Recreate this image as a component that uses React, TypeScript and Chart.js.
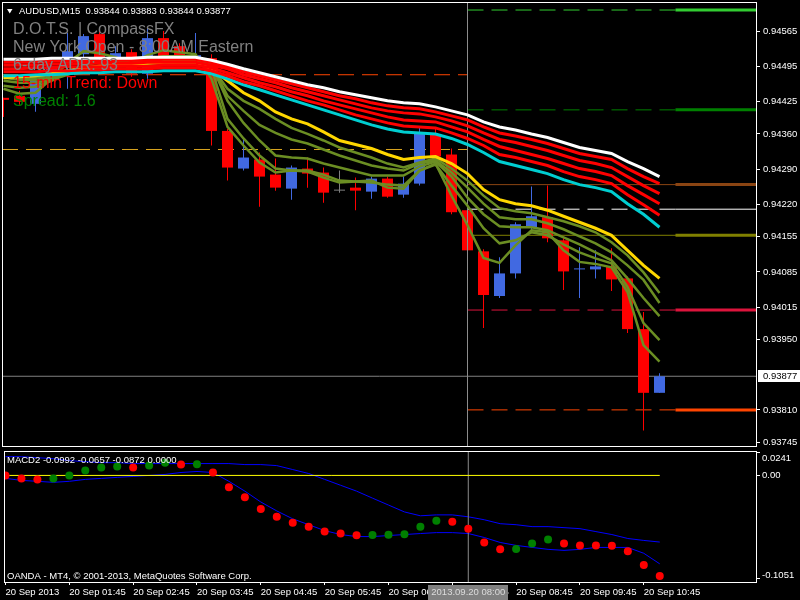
import React, { useEffect, useRef } from "react";
import { Chart, registerables } from "chart.js";

Chart.register(...registerables);

const FONT = "'Liberation Sans', Arial, sans-serif";

// ---------------- data (AUDUSD M15, 20 Sep 2013) ----------------
const barOpen = [
  0.94432, 0.94436, 0.94420, 0.94470, 0.94499, 0.94519, 0.94559, 0.94511, 0.94523, 0.94480,
  0.94551, 0.94535, 0.94505, 0.94511, 0.94366, 0.94291, 0.94309, 0.94279, 0.94251, 0.94291,
  0.94283, 0.94247, 0.94253, 0.94245, 0.94271, 0.94239, 0.94261, 0.94360, 0.94319, 0.94208,
  0.94126, 0.94037, 0.94082, 0.94174, 0.94194, 0.94148, 0.94090, 0.94090, 0.94096, 0.94072,
  0.93971, 0.93844,
];
const barHigh = [
  0.94432, 0.94446, 0.94476, 0.94509, 0.94561, 0.94559, 0.94565, 0.94535, 0.94529, 0.94571,
  0.94565, 0.94541, 0.94561, 0.94519, 0.94370, 0.94354, 0.94323, 0.94311, 0.94297, 0.94313,
  0.94293, 0.94287, 0.94273, 0.94275, 0.94275, 0.94275, 0.94372, 0.94370, 0.94331, 0.94211,
  0.94130, 0.94114, 0.94184, 0.94255, 0.94257, 0.94152, 0.94134, 0.94128, 0.94132, 0.94076,
  0.94005, 0.93883,
];
const barLow = [
  0.94394, 0.94418, 0.94404, 0.94462, 0.94450, 0.94505, 0.94501, 0.94501, 0.94474, 0.94470,
  0.94501, 0.94501, 0.94499, 0.94337, 0.94267, 0.94287, 0.94215, 0.94247, 0.94229, 0.94253,
  0.94223, 0.94243, 0.94208, 0.94231, 0.94233, 0.94233, 0.94257, 0.94311, 0.94200, 0.94124,
  0.93973, 0.94033, 0.94072, 0.94168, 0.94144, 0.94049, 0.94033, 0.94072, 0.94047, 0.93963,
  0.93769, 0.93844,
];
const barClose = [
  0.94428, 0.94424, 0.94466, 0.94495, 0.94525, 0.94555, 0.94511, 0.94521, 0.94480, 0.94551,
  0.94509, 0.94509, 0.94517, 0.94366, 0.94293, 0.94313, 0.94275, 0.94253, 0.94293, 0.94281,
  0.94243, 0.94247, 0.94247, 0.94271, 0.94235, 0.94261, 0.94362, 0.94315, 0.94204, 0.94128,
  0.94039, 0.94082, 0.94180, 0.94196, 0.94152, 0.94086, 0.94092, 0.94096, 0.94070, 0.93971,
  0.93844, 0.93877,
];

const maWhite = [
  0.94509, 0.94509, 0.94509, 0.94511, 0.94511, 0.94511, 0.94511, 0.94511, 0.94511, 0.94513,
  0.94513, 0.94513, 0.94513, 0.94507, 0.94499, 0.94490, 0.94482, 0.94474, 0.94466, 0.94458,
  0.94452, 0.94444, 0.94438, 0.94432, 0.94426, 0.94422, 0.94420, 0.94414, 0.94406, 0.94398,
  0.94384, 0.94374, 0.94368, 0.94360, 0.94353, 0.94343, 0.94333, 0.94327, 0.94321, 0.94305,
  0.94291, 0.94275,
];
const maRed1 = [
  0.94503, 0.94503, 0.94503, 0.94505, 0.94505, 0.94505, 0.94505, 0.94507, 0.94507, 0.94507,
  0.94509, 0.94509, 0.94509, 0.94503, 0.94494, 0.94484, 0.94476, 0.94468, 0.94460, 0.94452,
  0.94444, 0.94436, 0.94430, 0.94422, 0.94416, 0.94412, 0.94410, 0.94404, 0.94396, 0.94388,
  0.94374, 0.94362, 0.94356, 0.94349, 0.94341, 0.94331, 0.94321, 0.94315, 0.94309, 0.94291,
  0.94275, 0.94261,
];
const maRed2 = [
  0.94497, 0.94497, 0.94497, 0.94499, 0.94499, 0.94501, 0.94501, 0.94501, 0.94501, 0.94503,
  0.94503, 0.94503, 0.94503, 0.94497, 0.94490, 0.94478, 0.94470, 0.94462, 0.94452, 0.94444,
  0.94436, 0.94428, 0.94420, 0.94412, 0.94406, 0.94402, 0.94400, 0.94394, 0.94386, 0.94376,
  0.94362, 0.94349, 0.94343, 0.94335, 0.94327, 0.94317, 0.94307, 0.94301, 0.94293, 0.94275,
  0.94257, 0.94241,
];
const maRed3 = [
  0.94490, 0.94490, 0.94492, 0.94492, 0.94494, 0.94494, 0.94494, 0.94495, 0.94495, 0.94495,
  0.94497, 0.94497, 0.94497, 0.94492, 0.94482, 0.94472, 0.94462, 0.94454, 0.94444, 0.94436,
  0.94426, 0.94418, 0.94410, 0.94402, 0.94394, 0.94388, 0.94386, 0.94384, 0.94374, 0.94364,
  0.94349, 0.94335, 0.94327, 0.94319, 0.94311, 0.94301, 0.94291, 0.94285, 0.94277, 0.94257,
  0.94239, 0.94221,
];
const maRed4 = [
  0.94484, 0.94484, 0.94484, 0.94486, 0.94486, 0.94488, 0.94488, 0.94490, 0.94490, 0.94490,
  0.94492, 0.94492, 0.94492, 0.94486, 0.94476, 0.94464, 0.94456, 0.94446, 0.94436, 0.94426,
  0.94418, 0.94408, 0.94398, 0.94390, 0.94382, 0.94376, 0.94374, 0.94372, 0.94362, 0.94351,
  0.94337, 0.94319, 0.94313, 0.94305, 0.94297, 0.94285, 0.94275, 0.94269, 0.94261, 0.94239,
  0.94219, 0.94198,
];
const maCyan = [
  0.94476, 0.94476, 0.94478, 0.94478, 0.94480, 0.94482, 0.94482, 0.94484, 0.94484, 0.94484,
  0.94486, 0.94486, 0.94486, 0.94480, 0.94470, 0.94458, 0.94448, 0.94438, 0.94428, 0.94418,
  0.94408, 0.94398, 0.94388, 0.94378, 0.94370, 0.94364, 0.94362, 0.94360, 0.94351, 0.94339,
  0.94323, 0.94305, 0.94297, 0.94289, 0.94281, 0.94269, 0.94259, 0.94253, 0.94245, 0.94221,
  0.94200, 0.94174,
];
const maYellow = [
  0.94472, 0.94474, 0.94476, 0.94480, 0.94486, 0.94492, 0.94495, 0.94497, 0.94499, 0.94501,
  0.94503, 0.94503, 0.94503, 0.94490, 0.94466, 0.94442, 0.94426, 0.94404, 0.94390, 0.94380,
  0.94364, 0.94347, 0.94339, 0.94331, 0.94319, 0.94309, 0.94313, 0.94315, 0.94301, 0.94281,
  0.94249, 0.94229, 0.94221, 0.94217, 0.94208, 0.94196, 0.94184, 0.94172, 0.94158, 0.94128,
  0.94098, 0.94072,
];
const maOlive1 = [
  0.94476, 0.94472, 0.94472, 0.94476, 0.94482, 0.94488, 0.94492, 0.94495, 0.94495, 0.94499,
  0.94501, 0.94503, 0.94503, 0.94494, 0.94450, 0.94426, 0.94410, 0.94390, 0.94372, 0.94360,
  0.94347, 0.94333, 0.94323, 0.94313, 0.94301, 0.94293, 0.94303, 0.94311, 0.94291, 0.94267,
  0.94237, 0.94212, 0.94206, 0.94202, 0.94194, 0.94186, 0.94176, 0.94164, 0.94144, 0.94118,
  0.94084, 0.94043,
];
const maOlive2 = [
  0.94472, 0.94468, 0.94468, 0.94472, 0.94480, 0.94488, 0.94494, 0.94497, 0.94497, 0.94501,
  0.94505, 0.94507, 0.94507, 0.94497, 0.94436, 0.94406, 0.94378, 0.94362, 0.94349, 0.94341,
  0.94329, 0.94317, 0.94307, 0.94297, 0.94291, 0.94287, 0.94301, 0.94307, 0.94283, 0.94253,
  0.94221, 0.94194, 0.94190, 0.94190, 0.94182, 0.94170, 0.94156, 0.94142, 0.94124, 0.94098,
  0.94069, 0.94023,
];
const maOlive3 = [
  0.94466, 0.94462, 0.94462, 0.94468, 0.94478, 0.94490, 0.94497, 0.94501, 0.94501, 0.94505,
  0.94509, 0.94511, 0.94511, 0.94497, 0.94426, 0.94382, 0.94347, 0.94317, 0.94313, 0.94311,
  0.94301, 0.94293, 0.94285, 0.94277, 0.94277, 0.94277, 0.94295, 0.94305, 0.94275, 0.94233,
  0.94200, 0.94176, 0.94174, 0.94174, 0.94168, 0.94154, 0.94140, 0.94124, 0.94108, 0.94072,
  0.94033, 0.93997,
];
const maOlive4 = [
  0.94456, 0.94452, 0.94454, 0.94466, 0.94482, 0.94497, 0.94503, 0.94505, 0.94501, 0.94509,
  0.94515, 0.94515, 0.94515, 0.94490, 0.94390, 0.94351, 0.94317, 0.94291, 0.94287, 0.94287,
  0.94279, 0.94267, 0.94265, 0.94263, 0.94259, 0.94257, 0.94287, 0.94299, 0.94257, 0.94217,
  0.94172, 0.94142, 0.94148, 0.94164, 0.94158, 0.94140, 0.94124, 0.94112, 0.94102, 0.94055,
  0.93983, 0.93949,
];
const maOlive5 = [
  0.94450, 0.94440, 0.94442, 0.94470, 0.94501, 0.94525, 0.94521, 0.94513, 0.94499, 0.94517,
  0.94527, 0.94523, 0.94519, 0.94470, 0.94374, 0.94337, 0.94303, 0.94283, 0.94287, 0.94285,
  0.94273, 0.94263, 0.94265, 0.94267, 0.94253, 0.94251, 0.94287, 0.94301, 0.94237, 0.94178,
  0.94113, 0.94103, 0.94138, 0.94168, 0.94164, 0.94128, 0.94105, 0.94101, 0.94094, 0.94045,
  0.93939, 0.93906,
];

const macdDots = [
  0.0000, -0.0029, -0.0039, -0.0029, 0.0000, 0.0049, 0.0078, 0.0087, 0.0078, 0.0097,
  0.0126, 0.0107, 0.0110, 0.0029, -0.0117, -0.0214, -0.0330, -0.0408, -0.0467, -0.0505,
  -0.0554, -0.0573, -0.0590, -0.0588, -0.0585, -0.0580, -0.0505, -0.0447, -0.0457, -0.0525,
  -0.0661, -0.0729, -0.0726, -0.0671, -0.0632, -0.0671, -0.0690, -0.0692, -0.0694, -0.0748,
  -0.0884, -0.0992,
];
const macdSlow = [
  0.0185, 0.0185, 0.0175, 0.0165, 0.0146, 0.0136, 0.0126, 0.0126, 0.0117, 0.0117,
  0.0117, 0.0117, 0.0117, 0.0117, 0.0117, 0.0107, 0.0107, 0.0097, 0.0058, 0.0019,
  -0.0039, -0.0097, -0.0155, -0.0224, -0.0292, -0.0360, -0.0398, -0.0389, -0.0389, -0.0408,
  -0.0437, -0.0476, -0.0486, -0.0505, -0.0505, -0.0515, -0.0525, -0.0554, -0.0583, -0.0622,
  -0.0641, -0.0657,
];
const macdFast = [
  -0.0029, -0.0049, -0.0058, -0.0068, -0.0058, -0.0039, -0.0029, -0.0019, -0.0010, 0.0000,
  0.0010, 0.0029, 0.0039, 0.0029, -0.0058, -0.0155, -0.0262, -0.0350, -0.0428, -0.0486,
  -0.0544, -0.0583, -0.0603, -0.0603, -0.0593, -0.0583, -0.0573, -0.0564, -0.0564, -0.0573,
  -0.0612, -0.0661, -0.0690, -0.0710, -0.0729, -0.0739, -0.0729, -0.0710, -0.0710, -0.0710,
  -0.0768, -0.0872,
];

const priceTicks = [
  0.94565, 0.94495, 0.94425, 0.9436, 0.9429, 0.9422, 0.94155, 0.94085, 0.94015, 0.9395,
  0.9381, 0.93745,
];
const macdTickLabels = ["0.0241", "0.00", "-0.1051"];
const timeTickIndex = [0, 4, 8, 12, 16, 20, 24, 28, 32, 36, 40];
const timeTickLabels = [
  "20 Sep 2013", "20 Sep 01:45", "20 Sep 02:45", "20 Sep 03:45", "20 Sep 04:45",
  "20 Sep 05:45", "20 Sep 06:45", "20 Sep 07:45", "20 Sep 08:45", "20 Sep 09:45",
  "20 Sep 10:45",
];
const sessionLabel = "2013.09.20 08:00";

const rightLevelPrices = [0.94607, 0.94408, 0.94259, 0.9421, 0.94158, 0.94009, 0.9381];
const leftLevelPrices = [0.94478, 0.94329];

const infoLines = [
  "D.O.T.S. | CompassFX",
  "New York Open - 8:00AM Eastern",
  "6-day ADR: 93",
  "15-min Trend: Down",
  "Spread: 1.6",
];

// ---------------- layout / style constants ----------------
const X_MIN = -0.09375;
const X_MAX = 47.09375;
const PRICE_MIN = 0.93738;
const PRICE_MAX = 0.94623;
const MACD_MIN = -0.1051;
const MACD_MAX = 0.0241;
const SESSION_INDEX = 29;
const TAIL_INDEX = 42;

const rightLevelColors = ["#32CD32", "#008000", "#8B4513", "#FFFFFF", "#808000", "#DC143C", "#FF4500"];
const rightLevelDashed = [true, true, false, true, false, true, true];
const rightLevelThick = [true, true, true, false, true, true, true];
const leftLevelColors = ["#FF4500", "#DAA520"];
const infoColors = ["#808080", "#808080", "#808080", "#FF0000", "#008000"];

const BULL = "#4169E1";
const BEAR = "#FF0000";
const DOJI = "#808080";
const VLINE = "#8C8C8C";
const SMALL = 9.5;
const DASH = [16, 8];

const pts = (arr: number[]) => arr.map((v, i) => ({ x: i, y: v }));

function lineDs(values: number[], color: string, width: number, order: number) {
  return {
    type: "line",
    data: pts(values),
    borderColor: color,
    borderWidth: width,
    pointRadius: 0,
    tension: 0,
    fill: false,
    order,
  };
}

function segDs(x0: number, x1: number, y: number, color: string, width: number, dash: number[], order: number) {
  return {
    type: "line",
    data: [
      { x: x0, y },
      { x: x1, y },
    ],
    borderColor: color,
    borderWidth: width,
    borderDash: dash,
    pointRadius: 0,
    tension: 0,
    fill: false,
    order,
  };
}

function fmt(v: number, d: number) {
  return v.toFixed(d);
}

function noPad(s: any) {
  s.paddingTop = 0;
  s.paddingBottom = 0;
  s.paddingLeft = 0;
  s.paddingRight = 0;
}

const mainOverlay = {
  id: "mainOverlay",
  afterDraw(chart: any) {
    const { ctx, chartArea: a, scales } = chart;
    ctx.save();
    ctx.strokeStyle = "#FFFFFF";
    ctx.lineWidth = 1;
    ctx.setLineDash([]);
    ctx.strokeRect(a.left + 0.5, a.top + 0.5, a.right - a.left - 1, a.bottom - a.top);

    const n = barClose.length - 1;
    ctx.fillStyle = "#FFFFFF";
    ctx.beginPath();
    ctx.moveTo(7, 9);
    ctx.lineTo(12.5, 9);
    ctx.lineTo(9.75, 13.5);
    ctx.closePath();
    ctx.fill();
    ctx.font = `${SMALL}px ${FONT}`;
    ctx.textBaseline = "alphabetic";
    ctx.textAlign = "left";
    const head = `AUDUSD,M15  ${fmt(barOpen[n], 5)} ${fmt(barHigh[n], 5)} ${fmt(barLow[n], 5)} ${fmt(barClose[n], 5)}`;
    ctx.fillText(head, 19, 14);

    ctx.font = `16px ${FONT}`;
    infoLines.forEach((t, i) => {
      ctx.fillStyle = infoColors[i];
      ctx.fillText(t, 13, 34 + i * 18);
    });

    const yb = scales.y.getPixelForValue(barClose[n]);
    ctx.fillStyle = "#FFFFFF";
    ctx.fillRect(a.right + 1, Math.round(yb) - 6, 43, 12);
    ctx.fillStyle = "#000000";
    ctx.font = `${SMALL}px ${FONT}`;
    ctx.textBaseline = "middle";
    ctx.fillText(fmt(barClose[n], 5), a.right + 6, Math.round(yb) + 0.5);
    ctx.restore();
  },
};

const macdOverlay = {
  id: "macdOverlay",
  afterDraw(chart: any) {
    const { ctx, chartArea: a, scales } = chart;
    ctx.save();
    ctx.strokeStyle = "#FFFFFF";
    ctx.lineWidth = 1;
    ctx.setLineDash([]);
    ctx.strokeRect(a.left + 0.5, a.top + 0.5, a.right - a.left - 1, a.bottom - a.top);

    const n = macdDots.length - 1;
    ctx.fillStyle = "#FFFFFF";
    ctx.font = `${SMALL}px ${FONT}`;
    ctx.textAlign = "left";
    ctx.textBaseline = "alphabetic";
    ctx.fillText(
      `MACD2 ${fmt(macdDots[n], 4)} ${fmt(macdSlow[n], 4)} ${fmt(macdFast[n], 4)} 0.0000`,
      7,
      a.top + 12
    );
    ctx.fillText("OANDA - MT4, \u00A9 2001-2013, MetaQuotes Software Corp.", 7, a.bottom - 3);

    const yTop = a.top + 7;
    const yZero = Math.round(scales.y.getPixelForValue(0)) + 0.5;
    const yBot = a.bottom - 7;
    ctx.textBaseline = "middle";
    [yTop, yZero, yBot].forEach((yy, i) => {
      ctx.fillText(macdTickLabels[i], a.right + 5, yy);
    });
    ctx.beginPath();
    [a.top + 1.5, yZero, a.bottom - 3.5].forEach((yy) => {
      ctx.moveTo(a.right, yy);
      ctx.lineTo(a.right + 3, yy);
    });
    ctx.stroke();

    const xs = scales.x.getPixelForValue(SESSION_INDEX);
    ctx.fillStyle = "#808080";
    ctx.fillRect(Math.round(xs) - 40, a.bottom + 3, 80, 15);
    ctx.fillStyle = "#DCDCDC";
    ctx.textAlign = "center";
    ctx.fillText(sessionLabel, xs, a.bottom + 10.5);
    ctx.restore();
  },
};

function mainConfig(): any {
  const candleColors = barOpen.map((o, i) =>
    barClose[i] > o ? BULL : barClose[i] < o ? BEAR : DOJI
  );
  const datasets: any[] = [
    lineDs(maWhite, "#FFFFFF", 3, 1),
    lineDs(maRed1, "#FF0000", 3, 2),
    lineDs(maRed2, "#FF0000", 3, 2),
    lineDs(maRed3, "#FF0000", 3, 2),
    lineDs(maRed4, "#FF0000", 3, 2),
    lineDs(maCyan, "#00CED1", 3, 3),
    lineDs(maYellow, "#FFD700", 3, 4),
    lineDs(maOlive1, "#6B8E23", 2.5, 5),
    lineDs(maOlive2, "#6B8E23", 2.5, 5),
    lineDs(maOlive3, "#6B8E23", 2.5, 5),
    lineDs(maOlive4, "#6B8E23", 2.5, 5),
    lineDs(maOlive5, "#6B8E23", 2.5, 5),
    {
      type: "line",
      data: [
        { x: SESSION_INDEX, y: PRICE_MIN },
        { x: SESSION_INDEX, y: PRICE_MAX },
      ],
      borderColor: VLINE,
      borderWidth: 1,
      pointRadius: 0,
      order: 6,
    },
    {
      type: "bar",
      data: barOpen.map((o, i) => ({ x: i, y: [o, barClose[i]] })),
      backgroundColor: candleColors,
      barThickness: 11,
      maxBarThickness: 11,
      minBarLength: 1,
      grouped: false,
      borderWidth: 0,
      inflateAmount: 0,
      order: 7,
    },
    {
      type: "bar",
      data: barLow.map((l, i) => ({ x: i, y: [l, barHigh[i]] })),
      backgroundColor: candleColors,
      barThickness: 1,
      maxBarThickness: 1,
      grouped: false,
      borderWidth: 0,
      inflateAmount: 0,
      order: 8,
    },
    segDs(X_MIN, X_MAX, barClose[barClose.length - 1], "#808080", 1, [], 9),
  ];
  rightLevelPrices.forEach((p, i) => {
    datasets.push(segDs(SESSION_INDEX, rightLevelDashed[i] ? TAIL_INDEX : X_MAX, p, rightLevelColors[i], 1, rightLevelDashed[i] ? DASH : [], 9));
    datasets.push(segDs(TAIL_INDEX, X_MAX, p, rightLevelColors[i], rightLevelThick[i] ? 3 : 1, [], 9));
  });
  leftLevelPrices.forEach((p, i) => {
    datasets.push(segDs(X_MIN, SESSION_INDEX, p, leftLevelColors[i], 1, DASH, 9));
  });

  return {
    type: "line",
    data: { datasets },
    plugins: [mainOverlay],
    options: {
      animation: false,
      responsive: false,
      maintainAspectRatio: false,
      devicePixelRatio: 1,
      events: [],
      layout: { padding: { left: 2, top: 2, right: 0, bottom: 1 } },
      plugins: { legend: { display: false }, tooltip: { enabled: false } },
      scales: {
        x: { type: "linear", min: X_MIN, max: X_MAX, display: false, offset: false },
        y: {
          type: "linear",
          position: "right",
          min: PRICE_MIN,
          max: PRICE_MAX,
          afterFit: (s: any) => {
            s.width = 43;
            noPad(s);
          },
          afterBuildTicks: (s: any) => {
            s.ticks = priceTicks.map((v) => ({ value: v }));
          },
          ticks: {
            color: "#FFFFFF",
            font: { family: FONT, size: SMALL },
            padding: 3,
            autoSkip: false,
            callback: (v: any) => Number(v).toFixed(5),
          },
          grid: { drawOnChartArea: false, color: "#FFFFFF", tickLength: 3, lineWidth: 1 },
          border: { display: false },
        },
      },
    },
  };
}

function macdConfig(): any {
  const dotColors = macdDots.map((v, i) => (i > 0 && v > macdDots[i - 1] ? "#008000" : "#FF0000"));
  const datasets: any[] = [
    {
      type: "line",
      data: pts(macdDots),
      showLine: false,
      pointRadius: 4,
      pointBackgroundColor: dotColors,
      pointBorderWidth: 0,
      pointBorderColor: "rgba(0,0,0,0)",
      order: 1,
    },
    segDs(X_MIN, macdDots.length - 1, 0, "#FFFF00", 1, [], 2),
    {
      type: "line",
      data: [
        { x: SESSION_INDEX, y: MACD_MIN },
        { x: SESSION_INDEX, y: MACD_MAX },
      ],
      borderColor: VLINE,
      borderWidth: 1,
      pointRadius: 0,
      order: 3,
    },
    lineDs(macdSlow, "#0000FF", 1, 4),
    lineDs(macdFast, "#0000FF", 1, 4),
  ];
  return {
    type: "line",
    data: { datasets },
    plugins: [macdOverlay],
    options: {
      animation: false,
      responsive: false,
      maintainAspectRatio: false,
      devicePixelRatio: 1,
      events: [],
      layout: { padding: { left: 2, top: 2, right: 0, bottom: 0 } },
      plugins: { legend: { display: false }, tooltip: { enabled: false } },
      scales: {
        x: {
          type: "linear",
          min: X_MIN,
          max: X_MAX,
          offset: false,
          position: "bottom",
          afterFit: (s: any) => {
            s.height = 18;
            noPad(s);
          },
          afterBuildTicks: (s: any) => {
            s.ticks = timeTickIndex.map((v) => ({ value: v }));
          },
          ticks: {
            color: "#FFFFFF",
            font: { family: FONT, size: SMALL },
            align: "start",
            maxRotation: 0,
            minRotation: 0,
            autoSkip: false,
            padding: 2,
            callback: (v: any) => {
              const k = timeTickIndex.indexOf(Number(v));
              return k >= 0 ? timeTickLabels[k] : "";
            },
          },
          grid: { drawOnChartArea: false, color: "#FFFFFF", tickLength: 3, lineWidth: 1 },
          border: { display: false },
        },
        y: {
          type: "linear",
          position: "right",
          min: MACD_MIN,
          max: MACD_MAX,
          afterFit: (s: any) => {
            s.width = 43;
            noPad(s);
          },
          ticks: { display: false },
          grid: { display: false },
          border: { display: false },
        },
      },
    },
  };
}

export default function App() {
  const mainRef = useRef<HTMLCanvasElement>(null);
  const macdRef = useRef<HTMLCanvasElement>(null);

  useEffect(() => {
    Chart.defaults.font.family = FONT;
    const c1 = new Chart(mainRef.current as HTMLCanvasElement, mainConfig());
    const c2 = new Chart(macdRef.current as HTMLCanvasElement, macdConfig());
    return () => {
      c1.destroy();
      c2.destroy();
    };
  }, []);

  return (
    <div
      style={{
        position: "fixed",
        left: 0,
        top: 0,
        width: 800,
        height: 600,
        background: "#000000",
        overflow: "hidden",
      }}
    >
      <canvas
        ref={mainRef}
        width={800}
        height={447}
        style={{ position: "absolute", left: 0, top: 0, width: 800, height: 447 }}
      />
      <canvas
        ref={macdRef}
        width={800}
        height={153}
        style={{ position: "absolute", left: 0, top: 447, width: 800, height: 153 }}
      />
    </div>
  );
}
